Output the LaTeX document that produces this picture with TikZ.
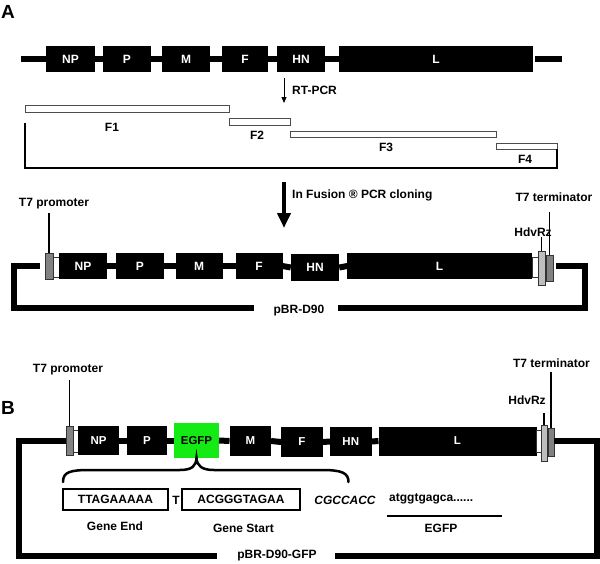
\documentclass[tikz,border=0pt]{standalone}
\usepackage{fontspec}
\setmainfont{Liberation Sans}
\usetikzlibrary{arrows.meta}
\definecolor{egfpgreen}{RGB}{20,235,20}
\definecolor{darkbox}{RGB}{130,130,130}
\definecolor{lightbox}{RGB}{190,190,190}
\tikzset{
  lbl/.style={font=\fontsize{12}{14}\selectfont\bfseries, inner sep=0pt},
  panel/.style={font=\fontsize{19}{21}\selectfont\bfseries, inner sep=0pt},
  gene/.style={fill=black, text=white, inner sep=0pt, outer sep=0pt, font=\fontsize{12}{14}\selectfont\bfseries},
  genesmall/.style={gene, font=\fontsize{11.5}{13}\selectfont\bfseries},
  backbone/.style={line width=6pt},
  frag/.style={draw=black!70, fill=white, line width=0.9pt, inner sep=0pt, outer sep=0pt},
  spacer/.style={draw=black!80, fill=white, line width=0.6pt, inner sep=0pt, outer sep=0pt},
  promo/.style={draw=black!80, fill=darkbox, line width=0.6pt, inner sep=0pt, outer sep=0pt},
  ribo/.style={draw=black!80, fill=lightbox, line width=0.6pt, inner sep=0pt, outer sep=0pt},
  pin/.style={line width=1.6pt},
  loopline/.style={line width=5.5pt},
  seqbox/.style={draw=black, line width=1.6pt, fill=white, inner sep=0pt, font=\fontsize{12}{14}\selectfont\bfseries},
}
\begin{document}
\begin{tikzpicture}[x=1pt,y=-1pt]
\useasboundingbox (0,0) rectangle (600,563);

% ---------------- Panel A ----------------
\node[panel] (labA) at (8,11.5) {A};

\coordinate (a0) at (21,59);
\coordinate (a9) at (562,59);
\node[gene, minimum width=48.5, minimum height=26] (aNP) at (70.5,59) {NP};
\node[gene, minimum width=48.5, minimum height=26] (aP) at (127,59) {P};
\node[gene, minimum width=48.5, minimum height=26] (aM) at (186,59) {M};
\node[gene, minimum width=46, minimum height=26] (aF) at (245,59) {F};
\node[gene, minimum width=48, minimum height=26] (aHN) at (301,59) {HN};
\node[gene, minimum width=194, minimum height=26] (aL) at (436,59) {L};
\draw[backbone] (a0) -- (aNP.west);
\draw[backbone] (aNP.east) -- (aP.west);
\draw[backbone] (aP.east) -- (aM.west);
\draw[backbone] (aM.east) -- (aF.west);
\draw[backbone] (aF.east) -- (aHN.west);
\draw[backbone] (aHN.east) -- (aL.west);
\draw[backbone] ([xshift=2pt]aL.east) -- (a9);

\coordinate (rt0) at (284,78);
\coordinate (rt1) at (284,103);
\draw[line width=1pt, -{Triangle[length=6pt,width=5pt]}] (rt0) -- (rt1);
\node[lbl, anchor=west] (rtl) at (292,90) {RT-PCR};

\node[frag, minimum width=204, minimum height=7] (f1) at (127,108.5) {};
\node[frag, minimum width=61, minimum height=7] (f2) at (259.5,121.5) {};
\node[frag, minimum width=206, minimum height=6] (f3) at (393,134) {};
\node[frag, minimum width=61, minimum height=6] (f4) at (526.5,146) {};
\node[lbl] (f1l) at (112,127) {F1};
\node[lbl] (f2l) at (257,135) {F2};
\node[lbl] (f3l) at (386,147) {F3};
\node[lbl] (f4l) at (525,159) {F4};

\coordinate (br0) at (25,123);
\coordinate (br1) at (25,168);
\coordinate (br2) at (557,168);
\draw[line width=1.8pt] (br0) -- (br1) -- (br2) -- (f4.south east);

\coordinate (big0) at (284,182);
\coordinate (big1) at (284,228);
\draw[line width=4pt, -{Triangle[length=15pt,width=13pt]}] (big0) -- (big1);
\node[lbl, anchor=west] (fus) at (292,195) {In Fusion ® PCR cloning};

% ---------------- pBR-D90 ----------------
\node[promo, minimum width=8, minimum height=26] (mT7p) at (49,266) {};
\node[spacer, minimum width=6, minimum height=20] (mS1) at (56,267) {};
\node[gene, minimum width=48, minimum height=26] (mNP) at (83,266) {NP};
\node[gene, minimum width=47.5, minimum height=26] (mP) at (140,266) {P};
\node[gene, minimum width=47, minimum height=26] (mM) at (199,266) {M};
\node[gene, minimum width=47, minimum height=26] (mF) at (259,266) {F};
\node[gene, minimum width=48.5, minimum height=27] (mHN) at (315,267.5) {HN};
\node[gene, minimum width=184.6, minimum height=26] (mL) at (439.6,266) {L};
\node[spacer, minimum width=5.7, minimum height=20] (mS2) at (535,267) {};
\node[ribo, minimum width=7, minimum height=34] (mHdv) at (541.5,268) {};
\node[promo, minimum width=7, minimum height=26] (mT7t) at (549.5,268) {};
\draw[backbone] (mNP.east) -- (mP.west);
\draw[backbone] (mP.east) -- (mM.west);
\draw[backbone] (mM.east) -- (mF.west);
\draw[backbone] (mF.east) -- (mHN.west);
\draw[backbone] (mHN.east) -- (mL.west);

\node[lbl] (mT7pl) at (54,204) {T7 promoter};
\draw[pin] (mT7p.north) -- ++(0,-40);
\node[lbl] (mHdvl) at (533,232) {HdvRz};
\draw[pin] (mHdv.north) -- ++(0,-14);
\node[lbl] (mT7tl) at (554,197) {T7 terminator};
\draw[pin] (mT7t.north) -- ++(0,-43);

\node[lbl] (mname) at (299,311) {pBR-D90};
\coordinate (mc1) at (14,266);
\coordinate (mc2) at (14,308);
\coordinate (mc3) at (254,308);
\coordinate (mc4) at (338,308);
\coordinate (mc5) at (585,308);
\coordinate (mc6) at (585,266);
\coordinate (ml0) at (40,266);
\coordinate (mr0) at (556,266);
\draw[loopline] (ml0) -- (mc1) -- (mc2) -- (mc3);
\draw[loopline] (mc4) -- (mc5) -- (mc6) -- (mr0);

% ---------------- Panel B ----------------
\node[panel] (labB) at (8,408) {B};

\node[promo, minimum width=7, minimum height=29] (bT7p) at (69.5,440.5) {};
\node[spacer, minimum width=5, minimum height=22] (bS1) at (75.5,441) {};
\node[genesmall, minimum width=41, minimum height=29] (bNP) at (98.5,440.5) {NP};
\node[genesmall, minimum width=40, minimum height=29] (bP) at (147,440.5) {P};
\node[genesmall, fill=egfpgreen, text=black, minimum width=45, minimum height=35] (bEGFP) at (196.5,440.5) {EGFP};
\node[genesmall, minimum width=41.5, minimum height=30] (bM) at (250.3,441) {M};
\node[genesmall, minimum width=41.5, minimum height=30] (bF) at (302,442) {F};
\node[genesmall, minimum width=41.5, minimum height=29] (bHN) at (350.8,441.5) {HN};
\node[genesmall, minimum width=158, minimum height=29] (bL) at (457.5,441) {L};
\node[spacer, minimum width=4.6, minimum height=22] (bS2) at (538.8,441.5) {};
\node[ribo, minimum width=6, minimum height=36] (bHdv) at (544,443) {};
\node[promo, minimum width=6, minimum height=28] (bT7t) at (551,442) {};
\draw[backbone] (bNP.east) -- (bP.west);
\draw[backbone] (bP.east) -- (bEGFP.west);
\draw[backbone] (bEGFP.east) -- (bM.west);
\draw[backbone] (bM.east) -- (bF.west);
\draw[backbone] (bF.east) -- (bHN.west);
\draw[backbone] (bHN.east) -- (bL.west);

\node[lbl] (bT7pl) at (68,370) {T7 promoter};
\draw[pin] (bT7p.north) -- ++(0,-46);
\node[lbl] (bHdvl) at (527,400) {HdvRz};
\draw[pin] (bHdv.north) -- ++(0,-12);
\node[lbl] (bT7tl) at (551.5,363) {T7 terminator};
\draw[pin] (bT7t.north) -- ++(0,-56);

\node[lbl] (bname) at (277,556) {pBR-D90-GFP};
\coordinate (bc1) at (18.5,441);
\coordinate (bc2) at (18.5,556);
\coordinate (bc3) at (217,556);
\coordinate (bc4) at (335,556);
\coordinate (bc5) at (597,556);
\coordinate (bc6) at (597,441);
\coordinate (bl0) at (66,441);
\coordinate (br0b) at (554,441);
\draw[loopline, line width=6pt] (bl0) -- (bc1) -- (bc2) -- (bc3);
\draw[loopline, line width=6pt] (bc4) -- (bc5) -- (bc6) -- (br0b);

% brace
\coordinate (brL) at (63,482);
\coordinate (brR) at (348.5,482);
\draw[line width=2.5pt, line cap=round]
  (brL) .. controls (63,472) and (70,470) .. (90,470)
  -- (180,470) .. controls (192,470) and (196,466) .. (bEGFP.south)
  .. controls (197,466) and (202,470) .. (214,470)
  -- (322,470) .. controls (342,470) and (348.5,473) .. (brR);

\node[seqbox, minimum width=105, minimum height=21] (ge) at (115.5,499.5) {TTAGAAAAA};
\node[lbl] (tt) at (176,500) {T};
\node[seqbox, minimum width=118, minimum height=21] (gs) at (241,499.5) {ACGGGTAGAA};
\node[lbl, font=\fontsize{12}{14}\selectfont\bfseries\itshape] (kz) at (345,500) {CGCCACC};
\node[lbl, anchor=west] (atg) at (389,499) {atggtgagca......};
\coordinate (ul0) at (386.5,516);
\coordinate (ul1) at (502,516);
\draw[line width=1.6pt] (ul0) -- (ul1);
\node[lbl] (gel) at (115,526) {Gene End};
\node[lbl] (gsl) at (243.5,528) {Gene Start};
\node[lbl] (egl) at (441,528) {EGFP};
\end{tikzpicture}
\end{document}
